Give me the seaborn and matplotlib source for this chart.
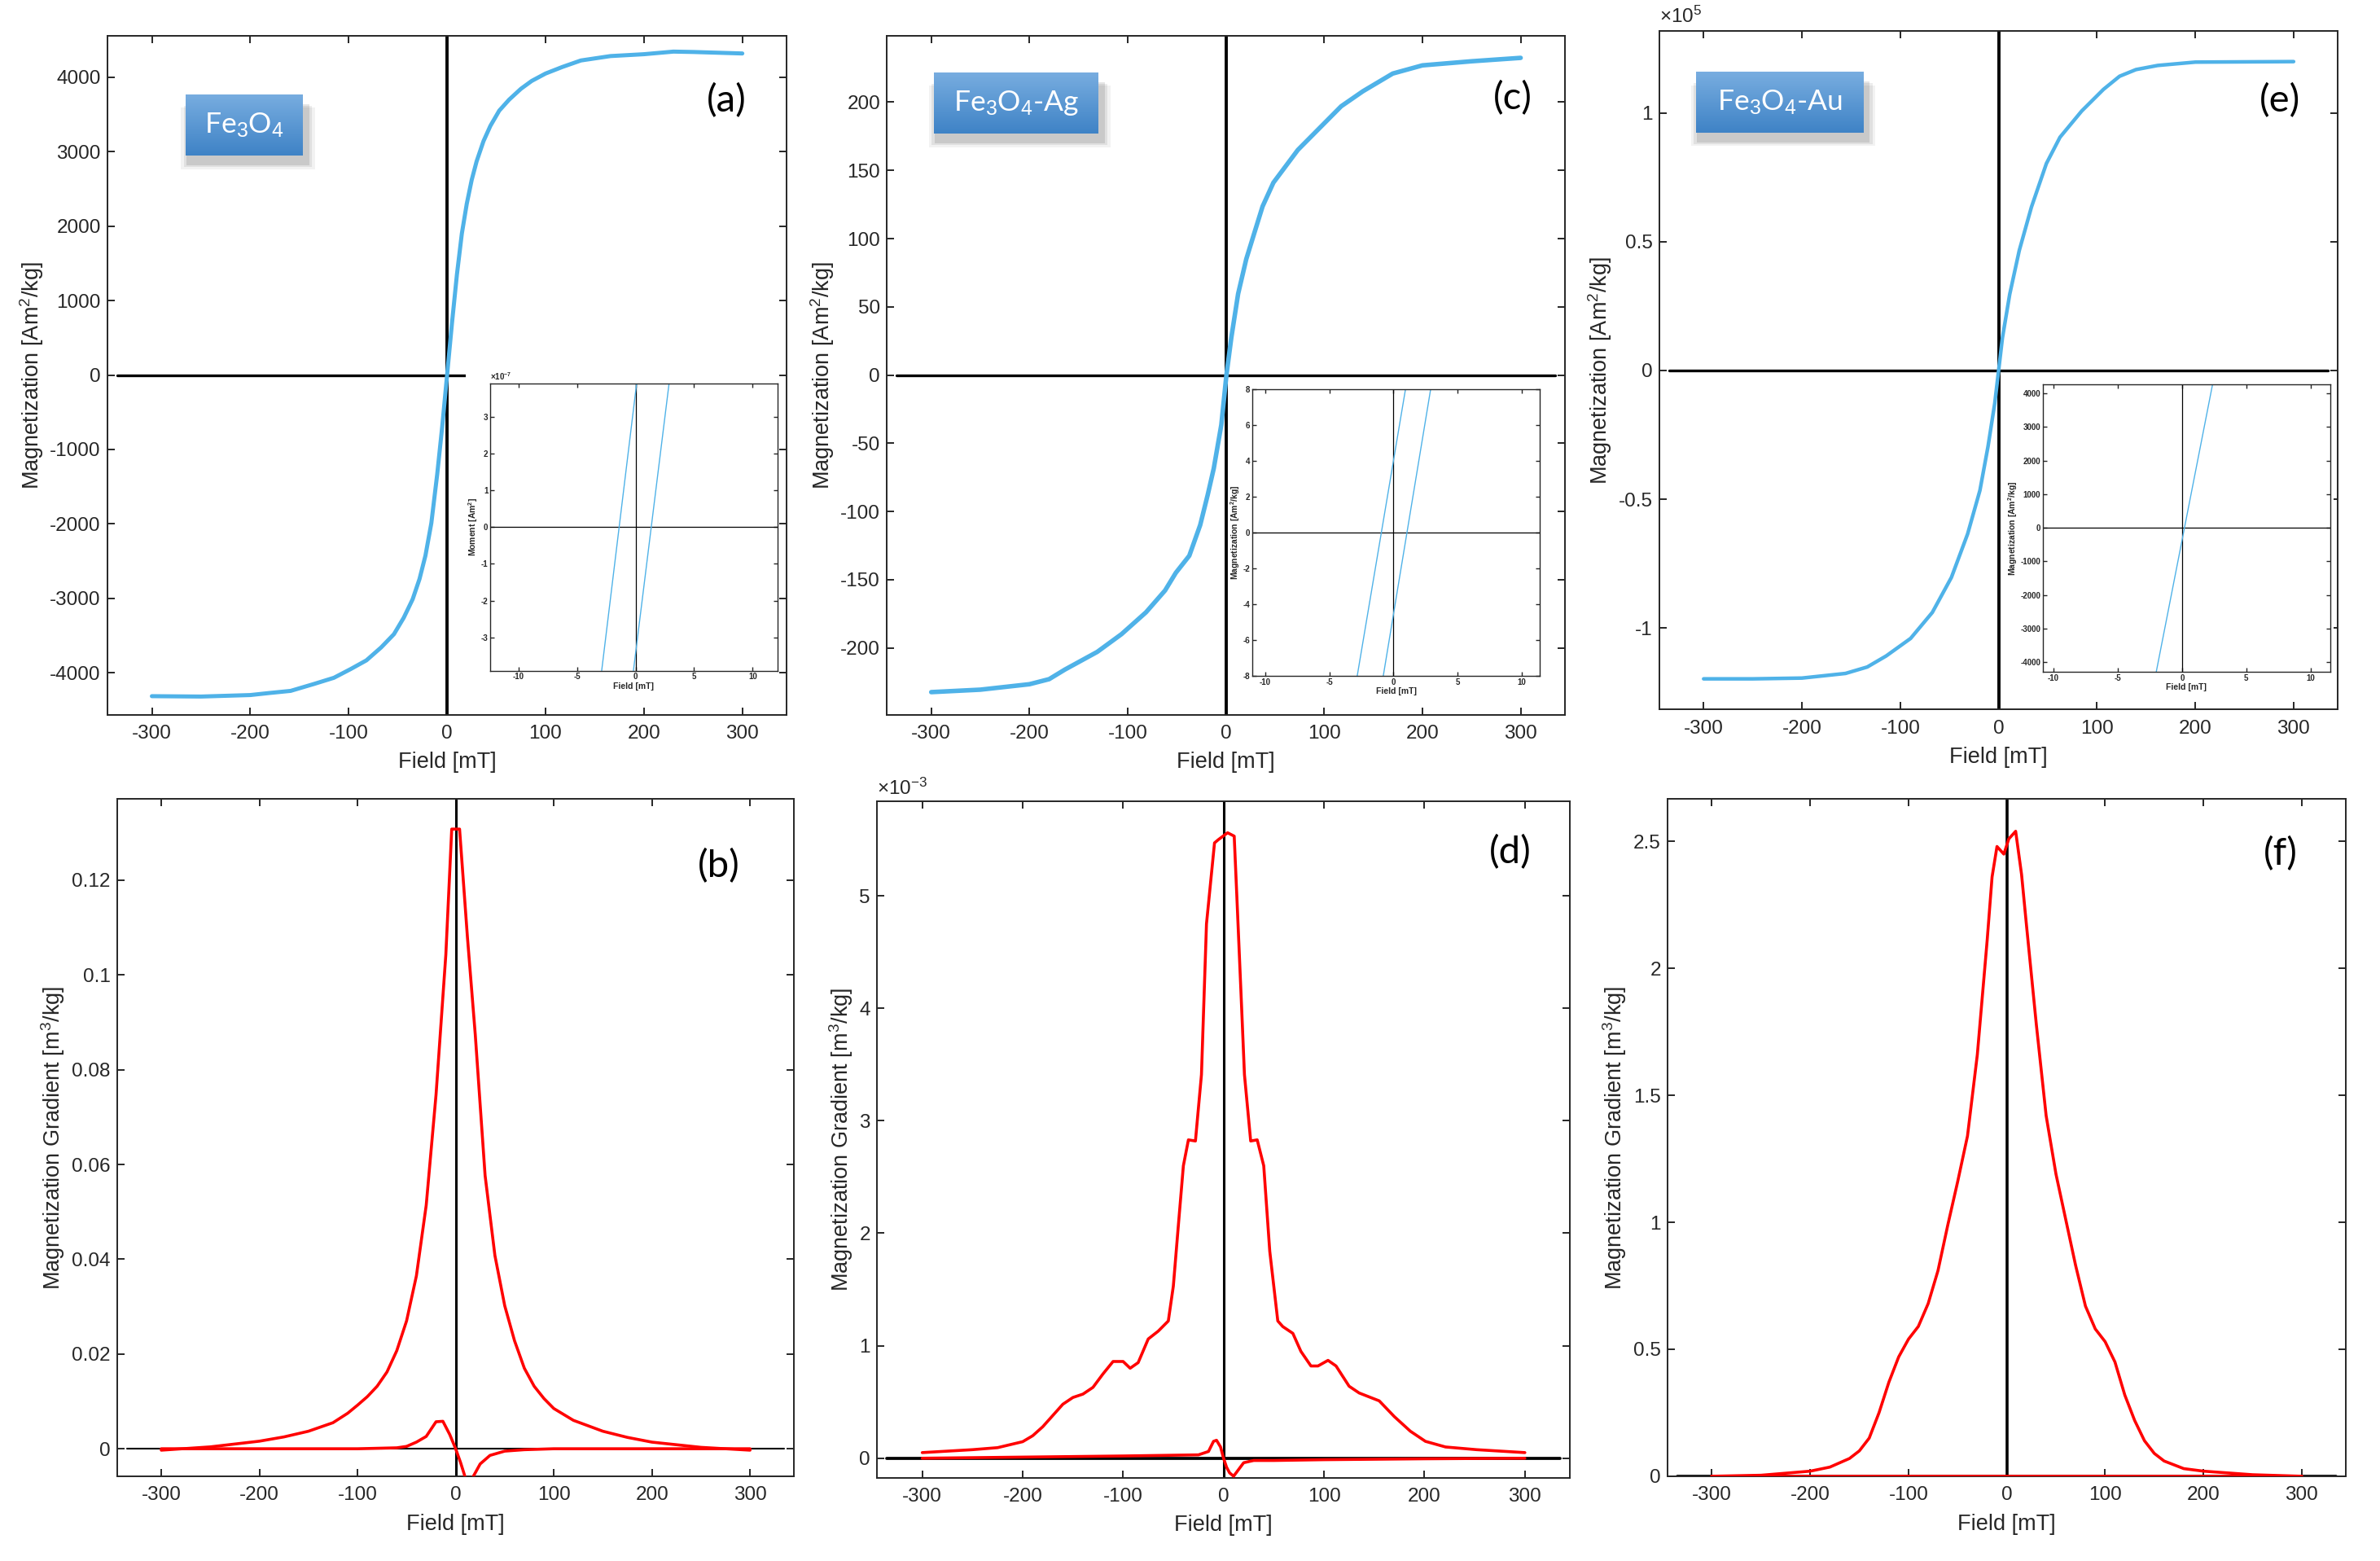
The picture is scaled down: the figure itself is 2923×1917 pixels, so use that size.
import numpy as np
import matplotlib
matplotlib.use("Agg")
import matplotlib.pyplot as plt
import seaborn as sns
from matplotlib.patches import Rectangle
from matplotlib.colors import LinearSegmentedColormap

sns.set_style("ticks")
plt.rcParams["font.family"] = ["Liberation Sans", "DejaVu Sans"]
plt.rcParams["mathtext.fontset"] = "custom"
plt.rcParams["mathtext.rm"] = "Liberation Sans"
plt.rcParams["mathtext.it"] = "Liberation Sans:italic"
plt.rcParams["mathtext.bf"] = "Liberation Sans:bold"
plt.rcParams["axes.unicode_minus"] = False

# ---------------- data ----------------
# (a) Fe3O4 magnetization [Am^2/kg]
a_field = [-300, -250, -200, -181, -159, -135, -115, -98, -82, -67, -54, -44, -35, -28, -22,
           -16, -10, -5, 0, 5, 10, 15, 20, 25, 30, 37, 44, 53, 63, 75, 86, 100, 117, 136, 166,
           200, 230, 250, 300]
a_mag = [-4315, -4320, -4300, -4273, -4244, -4150, -4068, -3951, -3834, -3660, -3482, -3260,
         -3013, -2740, -2427, -1990, -1330, -700, 0, 700, 1350, 1900, 2300, 2620, 2870, 3142,
         3347, 3552, 3699, 3845, 3951, 4050, 4138, 4226, 4285, 4310, 4345, 4340, 4320]

# (c) Fe3O4-Ag magnetization [Am^2/kg]
c_field = [-300, -250, -200, -180, -164, -131, -106.3, -81.4, -62, -51, -37.3, -26.2, -18.5,
           -12.4, -4.7, 0.5, 5.5, 12.4, 20.7, 30.4, 37.3, 48.3, 56.6, 73.2, 98, 117.3, 139.4,
           169.8, 200, 250, 300]
c_mag = [-232.5, -230.7, -226.7, -223, -216, -203, -190, -174, -158, -145, -132.5, -110, -87.7,
         -68.5, -36.5, 0, 27.5, 59.5, 85, 107.6, 123.6, 141, 149, 165, 183, 197, 208,
         221, 227, 230, 232.5]

# (e) Fe3O4-Au magnetization [x1e5 Am^2/kg]
e_field = [-300, -250, -200, -155.7, -133.6, -114.3, -89.5, -67.4, -48, -31.5, -19, -10.8, -3.9, 0,
           3.9, 11.3, 21, 33.4, 48.6, 62.4, 84.5, 106.6, 123, 139.7, 161.8, 200, 250, 300]
e_mag = [-1.198, -1.198, -1.195, -1.177, -1.152, -1.109, -1.041, -0.94, -0.804, -0.635, -0.466,
         -0.296, -0.127, 0, 0.127, 0.296, 0.466, 0.635, 0.804, 0.906, 1.008, 1.092, 1.143, 1.169,
         1.185, 1.198, 1.199, 1.2]

# (b) Fe3O4 gradient [m^3/kg]
b_field = [-300, -250, -200, -175, -150, -125, -110, -100, -90, -80, -70, -60, -50, -40, -30,
           -20, -10, -4, 4, 12, 20, 30, 40, 50, 60, 70, 80, 90, 100, 120, 150, 175, 200, 250, 300]
b_grad = [-0.0003, 0.0004, 0.0016, 0.0025, 0.0037, 0.0055, 0.0075, 0.0092, 0.011, 0.0132,
          0.0162, 0.0207, 0.027, 0.0365, 0.0514, 0.0747, 0.1043, 0.1308, 0.1308, 0.108, 0.0874,
          0.0577, 0.0408, 0.0302, 0.0228, 0.017, 0.0132, 0.0106, 0.0085, 0.006, 0.0037, 0.0024,
          0.0014, 0.0003, -0.0003]
b2_field = [-300, -100, -60, -50, -40, -30, -20, -13, -6, 0, 5, 10, 17, 25, 35, 50, 70, 100, 300]
b2_grad = [0, 0, 0.0002, 0.0005, 0.0014, 0.0026, 0.0057, 0.0058, 0.003, 0, -0.0029, -0.0062,
           -0.0062, -0.0032, -0.0014, -0.0005, -0.0002, 0, 0]

# (d) Fe3O4-Ag gradient [x1e-3 m^3/kg]
d_field = [-300, -250, -225, -200, -190, -180, -170, -160, -150, -140, -130, -120, -110, -100,
           -93, -85, -75, -65, -55, -50, -45, -40, -35, -28, -22, -17, -9, -5, 4, 10.6, 13.2,
           18.3, 20.8, 27, 33.5, 40, 46, 54, 59, 69, 77, 87, 94, 104, 112, 125, 135, 155, 170,
           186, 201, 221, 252, 300]
d_grad = [0.05, 0.076, 0.094, 0.147, 0.2, 0.28, 0.38, 0.48, 0.54, 0.57, 0.63, 0.75, 0.86, 0.86,
          0.80, 0.85, 1.06, 1.13, 1.22, 1.53, 2.07, 2.6, 2.83, 2.82, 3.41, 4.75, 5.47, 5.5, 5.56,
          5.53, 5.0, 3.94, 3.41, 2.82, 2.83, 2.6, 1.84, 1.22, 1.17, 1.11, 0.95, 0.82, 0.82, 0.87,
          0.82, 0.64, 0.58, 0.51, 0.37, 0.24, 0.15, 0.1, 0.076, 0.05]
d2_field = [-300, -100, -25, -15, -10, -7, -3, 0, 3, 6, 10, 15, 20, 30, 50, 100, 200, 300]
d2_grad = [0.0, 0.02, 0.03, 0.06, 0.15, 0.16, 0.1, 0.0, -0.08, -0.13, -0.16, -0.1, -0.04,
           -0.02, -0.02, -0.013, -0.005, 0.0]

# (f) Fe3O4-Au gradient [m^3/kg]
f_field = [-300, -250, -200, -180, -160, -150, -140, -130, -120, -110, -100, -90, -80, -70, -60,
           -50, -40, -30, -20, -15, -10, -3, 2, 9, 15, 20, 30, 40, 50, 60, 70, 80, 90, 100, 110,
           120, 130, 140, 150, 160, 180, 200, 250, 300]
f_grad = [0, 0.004, 0.02, 0.036, 0.07, 0.1, 0.15, 0.25, 0.37, 0.47, 0.54, 0.59, 0.68, 0.81, 0.99,
          1.16, 1.34, 1.66, 2.11, 2.36, 2.48, 2.45, 2.51, 2.54, 2.37, 2.17, 1.78, 1.42, 1.19, 1.01,
          0.83, 0.67, 0.58, 0.53, 0.45, 0.32, 0.22, 0.14, 0.09, 0.06, 0.03, 0.02, 0.006, 0]
f2_field = [-300, -150, 0, 150, 300]
f2_grad = [0, 0, 0, 0, 0]

# insets: branch field values [mT] at the lower / upper edge of the inset
ia_moment = [-3.9, 3.9]          # x1e-7 Am^2
ia_branch1 = [-2.89, 0.09]
ia_branch2 = [-0.18, 2.86]
ic_mag = [-8, 8]
ic_branch1 = [-2.83, 0.93]
ic_branch2 = [-0.80, 2.89]
ie_mag = [-4282, 4274]
ie_branch = [-2.0, 2.38]

field_ticks = [-300, -200, -100, 0, 100, 200, 300]
inset_ticks = [-10, -5, 0, 5, 10]

BLUE = "#4FB2E8"
RED = "#FF0000"
SPINE = "#262626"


def fmt(v):
    return f"{round(v, 6) + 0.0:g}"


fig = plt.figure(figsize=(29.23, 19.17), dpi=100)


def main_axes(rect, ylim, yticks, ylabel):
    ax = fig.add_axes(rect)
    ax.set_xlim(-345, 345)
    ax.set_ylim(ylim)
    ax.set_xticks(field_ticks, [fmt(v) for v in field_ticks])
    ax.set_yticks(yticks, [fmt(v) for v in yticks])
    ax.tick_params(direction="in", top=True, right=True, length=6.5, width=1.4,
                   colors=SPINE, labelsize=17.5)
    ax.tick_params(axis="y", pad=6)
    ax.tick_params(axis="x", pad=9)
    for s in ax.spines.values():
        s.set_linewidth(1.4)
        s.set_color(SPINE)
    ax.set_xlabel("Field [mT]", fontsize=19.5, labelpad=8, color=SPINE)
    ax.set_ylabel(ylabel, fontsize=19.5, labelpad=4, color=SPINE)
    return ax


def zero_lines(ax, hlw=2.4, vlw=2.8):
    ax.axhline(0, 0.0145, 0.9855, color="black", lw=hlw, zorder=1)
    ax.axvline(0, color="black", lw=vlw, zorder=1)


def inset_axes(rect, bg, xlim, ylim, yticks, ylabel):
    fig.add_artist(Rectangle((bg[0], bg[1]), bg[2] - bg[0], bg[3] - bg[1],
                             transform=fig.transFigure, facecolor="white",
                             edgecolor="none", zorder=1))
    ax = fig.add_axes(rect, zorder=2)
    ax.set_xlim(xlim)
    ax.set_ylim(ylim)
    ax.set_xticks(inset_ticks, [fmt(v) for v in inset_ticks], fontweight="bold")
    ax.set_yticks(yticks, [fmt(v) for v in yticks], fontweight="bold")
    ax.tick_params(direction="in", top=True, right=True, length=3.5, width=1.0,
                   colors=SPINE, labelsize=7, pad=2)
    for s in ax.spines.values():
        s.set_linewidth(1.0)
        s.set_color(SPINE)
    ax.set_xlabel("Field [mT]", fontsize=7.5, fontweight="bold", labelpad=1, color=SPINE)
    ax.set_ylabel(ylabel, fontsize=7.5, fontweight="bold", labelpad=1, color=SPINE)
    ax.axhline(0, color="black", lw=0.9)
    ax.axvline(0, color="black", lw=0.9)
    return ax


box_cmap = LinearSegmentedColormap.from_list("box", ["#78ADE0", "#3F83C6"])


def label_box(rect, text):
    x0, y0, w, h = rect
    for i, al in enumerate([0.10, 0.07, 0.05]):
        d = 0.0012 * (i + 1)
        fig.add_artist(Rectangle((x0 + 0.0015 - d, y0 - 0.005 - d), w + 2 * d, h,
                                 transform=fig.transFigure, facecolor="black",
                                 alpha=al, edgecolor="none", zorder=4))
    bax = fig.add_axes(rect, zorder=5)
    bax.imshow(np.linspace(0, 1, 64).reshape(-1, 1), cmap=box_cmap, aspect="auto",
               extent=(0, 1, 0, 1))
    bax.set_axis_off()
    bax.text(0.5, 0.5, text, transform=bax.transAxes, color="white", fontsize=25.5,
             family="Lato", ha="center", va="center")


def panel_letter(ax, x, y, s):
    ax.text(x, y, s, transform=ax.transAxes, fontsize=34, family="Lato",
            ha="center", va="center", color="black")


top_ylabel = "Magnetization [Am$^2$/kg]"
bot_ylabel = "Magnetization Gradient [m$^3$/kg]"

# ---------------- (a) ----------------
ax = main_axes([0.0452, 0.5422, 0.2853, 0.4348], (-4563, 4556),
               [-4000, -3000, -2000, -1000, 0, 1000, 2000, 3000, 4000], top_ylabel)
zero_lines(ax)
sns.lineplot(x=a_field, y=a_mag, ax=ax, color=BLUE, linewidth=3.6, sort=False,
             estimator=None, legend=False, zorder=3)
panel_letter(ax, 0.912, 0.904, "(a)")
label_box([0.0781, 0.9003, 0.0491, 0.0393], "Fe$_3$O$_4$")

ia = inset_axes([0.2060, 0.5704, 0.1206, 0.1839], [0.1957, 0.5503, 0.3275, 0.7650],
                (-12.4, 12.1), (-3.9, 3.9), [-3, -2, -1, 0, 1, 2, 3], "Moment [Am$^{\\mathbf{2}}$]")
sns.lineplot(x=ia_branch1, y=ia_moment, ax=ia, color=BLUE, linewidth=1.0, estimator=None,
             sort=False, legend=False)
sns.lineplot(x=ia_branch2, y=ia_moment, ax=ia, color=BLUE, linewidth=1.0, estimator=None,
             sort=False, legend=False)
ia.text(0.0, 1.005, "×10$^{\\mathbf{-7}}$", transform=ia.transAxes, fontsize=7,
        fontweight="bold", ha="left", va="bottom", color=SPINE)

# ---------------- (c) ----------------
ax = main_axes([0.3727, 0.5422, 0.2848, 0.4348], (-249, 248.6),
               [-200, -150, -100, -50, 0, 50, 100, 150, 200], top_ylabel)
zero_lines(ax)
sns.lineplot(x=c_field, y=c_mag, ax=ax, color=BLUE, linewidth=4.0, sort=False,
             estimator=None, legend=False, zorder=3)
panel_letter(ax, 0.923, 0.908, "(c)")
label_box([0.3924, 0.9144, 0.0690, 0.0393], "Fe$_3$O$_4$-Ag")

ic = inset_axes([0.5262, 0.5670, 0.1208, 0.1836], [0.5166, 0.5503, 0.6500, 0.7580],
                (-11.0, 11.4), (-8, 8), [-8, -6, -4, -2, 0, 2, 4, 6, 8],
                "Magnetization [Am$^{\\mathbf{2}}$/kg]")
sns.lineplot(x=ic_branch1, y=ic_mag, ax=ic, color=BLUE, linewidth=1.0, estimator=None,
             sort=False, legend=False)
sns.lineplot(x=ic_branch2, y=ic_mag, ax=ic, color=BLUE, linewidth=1.0, estimator=None,
             sort=False, legend=False)

# ---------------- (e) ----------------
ax = main_axes([0.6972, 0.5455, 0.2851, 0.4345], (-1.317, 1.318),
               [-1, -0.5, 0, 0.5, 1], top_ylabel)
zero_lines(ax)
sns.lineplot(x=e_field, y=e_mag, ax=ax, color=BLUE, linewidth=3.2, sort=False,
             estimator=None, legend=False, zorder=3)
panel_letter(ax, 0.915, 0.897, "(e)")
ax.text(0.0, 1.006, "×10$^{5}$", transform=ax.transAxes, fontsize=17.5, ha="left",
        va="bottom", color=SPINE)
label_box([0.7126, 0.9150, 0.0702, 0.0390], "Fe$_3$O$_4$-Au")

ie = inset_axes([0.8584, 0.5696, 0.1206, 0.1844], [0.8433, 0.5503, 0.9805, 0.7595],
                (-10.8, 11.5), (-4282, 4274),
                [-4000, -3000, -2000, -1000, 0, 1000, 2000, 3000, 4000],
                "Magnetization [Am$^{\\mathbf{2}}$/kg]")
sns.lineplot(x=ie_branch, y=ie_mag, ax=ie, color=BLUE, linewidth=1.0, estimator=None,
             sort=False, legend=False)

# ---------------- (b) ----------------
ax = main_axes([0.0492, 0.0543, 0.2845, 0.4340], (-0.0058, 0.1372),
               [0, 0.02, 0.04, 0.06, 0.08, 0.1, 0.12], bot_ylabel)
zero_lines(ax, hlw=1.5, vlw=2.2)
sns.lineplot(x=b_field, y=b_grad, ax=ax, color=RED, linewidth=2.6, sort=False,
             estimator=None, legend=False, zorder=3)
sns.lineplot(x=b2_field, y=b2_grad, ax=ax, color=RED, linewidth=2.6, sort=False,
             estimator=None, legend=False, zorder=3)
panel_letter(ax, 0.889, 0.901, "(b)")

# ---------------- (d) ----------------
ax = main_axes([0.3685, 0.0533, 0.2912, 0.4334], (-0.174, 5.84),
               [0, 1, 2, 3, 4, 5], bot_ylabel)
zero_lines(ax, hlw=2.7, vlw=2.2)
sns.lineplot(x=d_field, y=d_grad, ax=ax, color=RED, linewidth=2.6, sort=False,
             estimator=None, legend=False, zorder=3)
sns.lineplot(x=d2_field, y=d2_grad, ax=ax, color=RED, linewidth=2.6, sort=False,
             estimator=None, legend=False, zorder=3)
ax.text(0.0, 1.004, "×10$^{-3}$", transform=ax.transAxes, fontsize=17.5, ha="left",
        va="bottom", color=SPINE)
panel_letter(ax, 0.914, 0.924, "(d)")

# ---------------- (f) ----------------
ax = main_axes([0.7007, 0.0543, 0.2850, 0.4340], (0, 2.668),
               [0, 0.5, 1, 1.5, 2, 2.5], bot_ylabel)
zero_lines(ax, hlw=2.7, vlw=2.6)
sns.lineplot(x=f_field, y=f_grad, ax=ax, color=RED, linewidth=2.6, sort=False,
             estimator=None, legend=False, zorder=3)
sns.lineplot(x=f2_field, y=f2_grad, ax=ax, color=RED, linewidth=2.6, sort=False,
             estimator=None, legend=False, zorder=3)
panel_letter(ax, 0.903, 0.918, "(f)")

fig.savefig("out.png", dpi=100, facecolor="white")
plt.close(fig)
